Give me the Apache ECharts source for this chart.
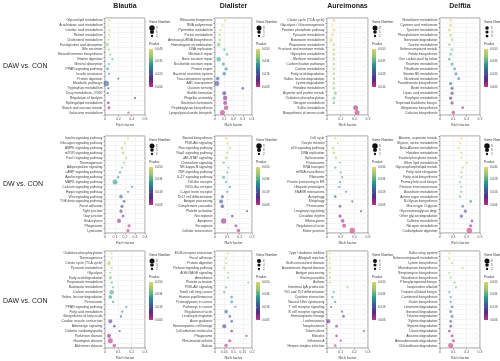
<!DOCTYPE html>
<html><head><meta charset="utf-8">
<script src="https://cdn.jsdelivr.net/npm/echarts@6/dist/echarts.min.js"></script>
<style>html,body{margin:0;padding:0;background:#fff}#c{width:500px;height:361px}</style>
</head><body><div id="c"></div>
<script>
// ---------- labels ----------
const comparisons = ['DAW vs. CON', 'DW vs. CON', 'DAW vs. CON'];
const genera = ['Blautia', 'Dialister', 'Aureimonas', 'Delftia'];
const xTitle = 'Rich factor';
const colorTitle = 'Pvalue';
const sizeTitle = 'Gene Number';

// ---------- panel 1 : Blautia, row 1 ----------
const p1_terms = ['Glycerolipid metabolism','Arachidonic acid metabolism','Linoleic acid metabolism','Retinol metabolism','Cholesterol metabolism','Fat digestion and absorption','Bile secretion','Steroid hormone biosynthesis','Vitamin digestion','Mineral absorption','PPAR signaling pathway','Insulin resistance','Protein digestion','Metabolic pathways','Tryptophan metabolism','Drug metabolism - P450','Regulation of lipolysis','Sphingolipid metabolism','Starch and sucrose metab.','Galactose metabolism'];
const p1_rich  = [0.06,0.05,0.07,0.06,0.05,0.03,0.06,0.08,0.11,0.06,0.04,0.06,0.20,0.02,0.05,0.04,0.45,0.05,0.06,0.35];
const p1_count = [2,2,2,2,2,5,2,2,2,2,3,2,2,9,2,2,2,3,4,2];
const p1_pval  = [0.049,0.048,0.046,0.045,0.043,0.041,0.040,0.038,0.036,0.034,0.031,0.029,0.027,0.024,0.021,0.018,0.015,0.012,0.009,0.006];

// ---------- panel 2 : Dialister, row 1 ----------
const p2_terms = ['Ribosome biogenesis','RNA polymerase','Pyrimidine metabolism','Purine metabolism','Aminoacyl-tRNA biosynthesis','Homologous recombination','DNA replication','Mismatch repair','Base excision repair','Nucleotide excision repair','Protein export','Bacterial secretion system','Two-component system','ABC transporters','Quorum sensing','Biofilm formation','Flagellar assembly','Bacterial chemotaxis','Peptidoglycan biosynthesis','Lipopolysaccharide biosynth.'];
const p2_rich  = [0.11,0.08,0.06,0.05,0.05,0.04,0.10,0.13,0.04,0.09,0.12,0.10,0.03,0.02,0.30,0.10,0.11,0.11,0.12,0.08];
const p2_count = [2,2,2,3,3,6,3,3,7,4,4,5,5,8,3,6,7,6,7,8];
const p2_pval  = [0.050,0.048,0.046,0.044,0.042,0.040,0.037,0.035,0.033,0.030,0.028,0.025,0.022,0.019,0.016,0.013,0.010,0.008,0.005,0.003];

// ---------- panel 3 : Aureimonas, row 1 ----------
const p3_terms = ['Citrate cycle (TCA cycle)','Glycolysis / Gluconeogenesis','Pentose phosphate pathway','Pyruvate metabolism','Butanoate metabolism','Propanoate metabolism','Fructose and mannose metab.','Glyoxylate metabolism','Methane metabolism','Carbon fixation pathways','Carbon metabolism','Fatty acid degradation','Valine, leucine degradation','Lysine degradation','Histidine metabolism','Arginine and proline metab.','Oxidative phosphorylation','Nitrogen metabolism','Sulfur metabolism','Biosynthesis of amino acids'];
const p3_rich  = [0.05,0.04,0.05,0.04,0.03,0.05,0.05,0.05,0.05,0.05,0.05,0.05,0.05,0.05,0.05,0.06,0.05,0.05,0.21,0.22];
const p3_count = [3,2,3,3,4,3,3,3,3,3,3,3,3,3,3,4,4,3,8,8];
const p3_pval  = [0.050,0.049,0.049,0.048,0.048,0.047,0.047,0.046,0.046,0.045,0.045,0.044,0.044,0.043,0.042,0.041,0.040,0.039,0.012,0.010];

// ---------- panel 4 : Delftia, row 1 ----------
const p4_terms = ['Glutathione metabolism','Cysteine and methionine','Tyrosine metabolism','Phenylalanine metabolism','Benzoate degradation','Taurine metabolism','Selenocompound metab.','Folate biosynthesis','One carbon pool by folate','Thiamine metabolism','Riboflavin metabolism','Vitamin B6 metabolism','Nicotinate metabolism','Pantothenate biosynthesis','Biotin metabolism','Lipoic acid metabolism','Porphyrin metabolism','Terpenoid backbone biosyn.','Ubiquinone biosynthesis','Cofactor biosynthesis'];
const p4_rich  = [0.08,0.08,0.07,0.08,0.09,0.07,0.09,0.08,0.07,0.09,0.11,0.12,0.14,0.08,0.09,0.09,0.08,0.09,0.17,0.10];
const p4_count = [3,3,3,4,3,3,3,3,3,4,3,4,3,4,4,4,4,4,3,5];
const p4_pval  = [0.050,0.048,0.047,0.045,0.043,0.041,0.039,0.037,0.035,0.033,0.031,0.028,0.026,0.023,0.020,0.017,0.014,0.011,0.008,0.005];

// ---------- panel 5 : Blautia, row 2 ----------
const p5_terms = ['Insulin signaling pathway','Glucagon signaling pathway','AMPK signaling pathway','mTOR signaling pathway','FoxO signaling pathway','Thermogenesis','Adipocytokine signaling','cAMP signaling pathway','Apelin signaling pathway','MAPK signaling pathway','Calcium signaling pathway','Hippo signaling pathway','Wnt signaling pathway','TGF-beta signaling pathway','Focal adhesion','Tight junction','Gap junction','Endocytosis','Phagosome','Lysosome'];
const p5_rich  = [0.23,0.20,0.17,0.18,0.21,0.19,0.17,0.15,0.13,0.10,0.27,0.23,0.16,0.19,0.17,0.16,0.18,0.14,0.24,0.23];
const p5_count = [2,2,3,3,2,2,2,3,3,8,2,2,5,3,4,4,3,6,4,4];
const p5_pval  = [0.050,0.048,0.046,0.044,0.042,0.040,0.038,0.036,0.034,0.031,0.029,0.026,0.023,0.020,0.017,0.014,0.011,0.008,0.005,0.003];

// ---------- panel 6 : Dialister, row 2 ----------
const p6_terms = ['Steroid biosynthesis','PI3K-Akt signaling','Ras signaling pathway','Rap1 signaling pathway','JAK-STAT signaling','Chemokine signaling','NF-kappa B signaling','TNF signaling pathway','IL-17 signaling pathway','Toll-like receptor','NOD-like receptor','C-type lectin receptor','Th17 cell differentiation','Antigen processing','Complement cascades','Platelet activation','Necroptosis','Apoptosis','Ferroptosis','Cellular senescence'];
const p6_rich  = [0.09,0.10,0.12,0.10,0.09,0.07,0.11,0.10,0.07,0.09,0.12,0.10,0.06,0.05,0.06,0.26,0.14,0.07,0.17,0.19];
const p6_count = [2,2,2,2,3,3,2,2,4,2,2,2,4,6,5,2,3,9,4,5];
const p6_pval  = [0.050,0.048,0.046,0.044,0.042,0.040,0.038,0.036,0.034,0.031,0.029,0.026,0.023,0.020,0.017,0.014,0.011,0.008,0.005,0.003];

// ---------- panel 7 : Aureimonas, row 2 ----------
const p7_terms = ['Cell cycle','Oocyte meiosis','p53 signaling pathway','DNA replication','Spliceosome','Proteasome','RNA transport','mRNA surveillance','Ribosome','Protein processing in ER','Ubiquitin proteolysis','SNARE interactions','Autophagy','Mitophagy','Peroxisome','Longevity regulating','Circadian rhythm','Efferocytosis','Regulation of actin','Motor proteins'];
const p7_rich  = [0.12,0.16,0.09,0.10,0.13,0.19,0.12,0.20,0.22,0.19,0.18,0.28,0.12,0.37,0.19,0.50,0.19,0.23,0.25,0.37];
const p7_count = [2,2,3,3,3,2,3,2,2,2,2,2,3,2,3,2,4,5,6,9];
const p7_pval  = [0.050,0.048,0.046,0.044,0.042,0.040,0.038,0.036,0.034,0.031,0.029,0.026,0.023,0.020,0.017,0.014,0.011,0.008,0.005,0.003];

// ---------- panel 8 : Delftia, row 2 ----------
const p8_terms = ['Alanine, aspartate metab.','Glycine, serine metabolism','Beta-Alanine metabolism','Histidine metabolism','Inositol phosphate metab.','Ether lipid metabolism','Glycerophospholipid metab.','Fatty acid elongation','Fatty acid biosynthesis','Primary bile acid biosyn.','Pentose interconversions','Ascorbate metabolism','Amino sugar metabolism','N-Glycan biosynthesis','Mucin type O-glycan','Glycosaminoglycan degr.','Other glycan degradation','Caffeine metabolism','Nitrogen metabolism','Carbohydrate digestion'];
const p8_rich  = [0.16,0.15,0.14,0.16,0.16,0.20,0.17,0.16,0.16,0.15,0.16,0.16,0.15,0.23,0.17,0.19,0.16,0.24,0.23,0.22];
const p8_count = [2,2,2,2,2,2,2,2,2,2,2,2,2,3,3,4,4,3,4,9];
const p8_pval  = [0.040,0.039,0.038,0.037,0.036,0.035,0.034,0.033,0.032,0.031,0.030,0.029,0.028,0.024,0.020,0.016,0.013,0.010,0.007,0.004];

// ---------- panel 9 : Blautia, row 3 ----------
const p9_terms = ['Oxidative phosphorylation','Thermogenesis','Citrate cycle (TCA cycle)','Pyruvate metabolism','Glycolysis','Fatty acid degradation','Propanoate metabolism','Butanoate metabolism','Carbon metabolism','Valine, leucine degradation','Peroxisome','PPAR signaling pathway','Fatty acid metabolism','Biosynthesis of fatty acids','Cardiac muscle contraction','Adrenergic signaling','Diabetic cardiomyopathy','Parkinson disease','Huntington disease','Alzheimer disease'];
const p9_rich  = [0.05,0.05,0.03,0.05,0.04,0.04,0.05,0.06,0.05,0.04,0.06,0.16,0.13,0.12,0.04,0.07,0.11,0.03,0.04,0.07];
const p9_count = [2,2,6,2,2,4,3,2,7,5,2,2,2,2,6,3,2,6,8,5];
const p9_pval  = [0.050,0.048,0.046,0.044,0.042,0.040,0.038,0.036,0.034,0.031,0.029,0.026,0.023,0.020,0.017,0.014,0.011,0.008,0.005,0.003];

// ---------- panel 10 : Dialister, row 3 ----------
const p10_terms = ['ECM-receptor interaction','Focal adhesion','Protein digestion','Relaxin signaling pathway','AGE-RAGE signaling','Amoebiasis','Platelet activation','PI3K-Akt signaling','Small cell lung cancer','Human papillomavirus','Proteoglycans in cancer','Pathways in cancer','Regulation of actin','Leukocyte migration','Axon guidance','Hematopoietic cell lineage','Cell adhesion molecules','Phagosome','Rheumatoid arthritis','Malaria'];
const p10_rich = [0.07,0.06,0.06,0.05,0.07,0.07,0.18,0.06,0.05,0.09,0.09,0.11,0.06,0.08,0.09,0.05,0.09,0.17,0.08,0.06];
const p10_count= [2,2,2,2,2,2,2,2,2,3,3,2,5,3,3,6,3,2,4,5];
const p10_pval = [0.050,0.048,0.046,0.044,0.042,0.040,0.038,0.036,0.034,0.031,0.029,0.026,0.023,0.020,0.017,0.014,0.011,0.008,0.005,0.003];

// ---------- panel 11 : Aureimonas, row 3 ----------
const p11_terms = ['Type I diabetes mellitus','Allograft rejection','Graft-versus-host disease','Autoimmune thyroid disease','Antigen processing','Viral myocarditis','Asthma','Intestinal IgA production','Th1 and Th2 differentiation','Cytokine interaction','Natural killer cytotoxicity','T cell receptor signaling','B cell receptor signaling','Hematopoietic lineage','Leishmaniasis','Toxoplasmosis','Tuberculosis','Measles','Influenza A','Herpes simplex infection'];
const p11_rich = [0.02,0.02,0.02,0.02,0.02,0.02,0.02,0.15,0.05,0.04,0.06,0.03,0.11,0.12,0.01,0.07,0.27,0.07,0.10,0.06];
const p11_count= [2,2,2,2,2,2,2,2,2,2,2,2,2,3,6,3,2,3,2,3];
const p11_pval = [0.050,0.049,0.048,0.047,0.046,0.045,0.044,0.040,0.035,0.030,0.026,0.022,0.018,0.015,0.012,0.010,0.008,0.006,0.004,0.003];

// ---------- panel 12 : Delftia, row 3 ----------
const p12_terms = ['Sulfur relay system','Selenocompound metabolism','Lysine biosynthesis','Monobactam biosynthesis','Streptomycin biosynthesis','Novobiocin biosynthesis','Phenylpropanoid biosyn.','Isoquinoline alkaloid','Tropane alkaloid biosyn.','Carotenoid biosynthesis','Zeatin biosynthesis','Limonene degradation','Geraniol degradation','Toluene degradation','Xylene degradation','Styrene degradation','Dioxin degradation','Atrazine degradation','Aminobenzoate degradation','Chloroalkane degradation'];
const p12_rich = [0.07,0.07,0.09,0.17,0.07,0.08,0.11,0.12,0.07,0.08,0.08,0.09,0.08,0.09,0.08,0.08,0.07,0.09,0.10,0.08];
const p12_count= [2,2,2,2,2,2,2,2,2,2,2,3,3,3,3,3,3,3,4,8];
const p12_pval = [0.050,0.048,0.046,0.044,0.042,0.040,0.038,0.036,0.034,0.031,0.029,0.026,0.023,0.020,0.017,0.014,0.011,0.008,0.005,0.003];

// x-axis extents per panel [max, interval]
const p_xaxis = [[0.6,0.2],[0.4,0.1],[0.3,0.1],[0.3,0.1],[0.4,0.1],[0.3,0.1],[0.6,0.2],[0.3,0.1],[0.3,0.1],[0.2,0.05],[0.3,0.1],[0.3,0.1]];

// ---------- build ----------
const panels = [
  [p1_terms,p1_rich,p1_count,p1_pval],[p2_terms,p2_rich,p2_count,p2_pval],[p3_terms,p3_rich,p3_count,p3_pval],[p4_terms,p4_rich,p4_count,p4_pval],
  [p5_terms,p5_rich,p5_count,p5_pval],[p6_terms,p6_rich,p6_count,p6_pval],[p7_terms,p7_rich,p7_count,p7_pval],[p8_terms,p8_rich,p8_count,p8_pval],
  [p9_terms,p9_rich,p9_count,p9_pval],[p10_terms,p10_rich,p10_count,p10_pval],[p11_terms,p11_rich,p11_count,p11_pval],[p12_terms,p12_rich,p12_count,p12_pval]
];
const colX = [[105,145],[215,252],[327,368],[440,480]];
const rowY = [[18,115],[136,233],[251,351]];
const palette = ['#c2307a','#5b2a86','#3b5a9d','#2a9a8f','#8cc97b','#e4d15a'];
const sizeOf = c => Math.min(7, 1.4 + c * 0.45);
const FONT = 'Liberation Sans';

const chart = echarts.init(document.getElementById('c'), null, {renderer: 'canvas'});
const grid = [], xAxis = [], yAxis = [], series = [], visualMap = [], graphic = [];

panels.forEach((p, i) => {
  const r = Math.floor(i / 4), c = i % 4;
  const [terms, rich, cnt, pv] = p;
  const [x0, x1] = colX[c], [y0, y1] = rowY[r];
  grid.push({left: x0, top: y0, width: x1 - x0, height: y1 - y0, show: true, borderColor: '#555', borderWidth: 0.6, backgroundColor: '#fff'});
  xAxis.push({type: 'value', gridIndex: i, min: 0, max: p_xaxis[i][0], interval: p_xaxis[i][1],
    axisLine: {show: false}, axisTick: {show: true, length: 1.5, lineStyle: {color: '#555', width: 0.5}},
    axisLabel: {fontSize: 3.5, color: '#555', margin: 2, fontFamily: FONT},
    splitLine: {show: true, lineStyle: {color: '#ebebeb', width: 0.5}},
    name: xTitle, nameLocation: 'middle', nameGap: 8, nameTextStyle: {fontSize: 3.8, color: '#444', fontFamily: FONT}});
  yAxis.push({type: 'category', gridIndex: i, data: terms, inverse: true,
    axisLine: {show: false}, axisTick: {show: true, length: 1.5, lineStyle: {color: '#555', width: 0.5}},
    axisLabel: {fontSize: 3.4, color: '#444', margin: 2.5, interval: 0, fontFamily: FONT},
    splitLine: {show: true, lineStyle: {color: '#ebebeb', width: 0.5}}});
  series.push({type: 'scatter', xAxisIndex: i, yAxisIndex: i,
    data: terms.map((t, k) => [rich[k], t, cnt[k], pv[k]]),
    symbol: 'circle', symbolSize: v => sizeOf(v[2]),
    itemStyle: {opacity: 0.6}, silent: true});
  const pmin = Math.min(...pv), pmax = Math.max(...pv);
  visualMap.push({type: 'continuous', show: false, seriesIndex: i, dimension: 3, min: pmin, max: pmax, inRange: {color: palette}});

  // size legend
  const lx = x1 + 4, ly = y0 + 3;
  graphic.push({type: 'text', left: lx, top: ly, style: {text: sizeTitle, fontSize: 3.4, fill: '#333', fontFamily: FONT}});
  const cmax = Math.max(...cnt), cmin = Math.min(...cnt);
  const keys = [cmax, Math.round((cmax + cmin) / 2), cmin];
  keys.forEach((k, j) => {
    const s = sizeOf(k);
    graphic.push({type: 'circle', shape: {cx: lx + 3, cy: ly + 7 + j * 4, r: s / 2}, style: {fill: '#111'}});
    graphic.push({type: 'text', x: lx + 7, y: ly + 5.5 + j * 4, style: {text: String(k), fontSize: 3, fill: '#444', fontFamily: FONT}});
  });
  // color legend
  const cy = ly + 22;
  graphic.push({type: 'text', x: lx, y: cy, style: {text: colorTitle, fontSize: 3.4, fill: '#333', fontFamily: FONT}});
  const barTop = cy + 6, barH = 38;
  graphic.push({type: 'rect', shape: {x: lx, y: barTop, width: 4, height: barH},
    style: {fill: new echarts.graphic.LinearGradient(0, 0, 0, 1, palette.slice().reverse().map((col, j) => ({offset: j / (palette.length - 1), color: col})))}});
  for (let t = 0; t < 4; t++) {
    const val = pmax - (pmax - pmin) * t / 3;
    const yy = barTop + barH * t / 3;
    graphic.push({type: 'text', x: lx + 6, y: yy - 1.5, style: {text: val.toFixed(3), fontSize: 3, fill: '#444', fontFamily: FONT}});
    graphic.push({type: 'line', shape: {x1: lx, y1: yy, x2: lx + 1, y2: yy}, style: {stroke: '#fff', lineWidth: 0.4}});
  }
});

// column titles
genera.forEach((g, c) => {
  const mid = (colX[c][0] + colX[c][1]) / 2;
  graphic.push({type: 'text', x: mid, y: 3, style: {text: g, fontSize: 7, fontWeight: 'bold', fill: '#222', fontFamily: FONT, textAlign: 'center'}});
});
// row titles
comparisons.forEach((t, r) => {
  const mid = (rowY[r][0] + rowY[r][1]) / 2;
  graphic.push({type: 'text', x: 3, y: mid - 3.5, style: {text: t, fontSize: 7, fill: '#222', fontFamily: FONT}});
});

chart.setOption({animation: false, backgroundColor: '#fff', grid, xAxis, yAxis, series, visualMap, graphic});
</script></body></html>
